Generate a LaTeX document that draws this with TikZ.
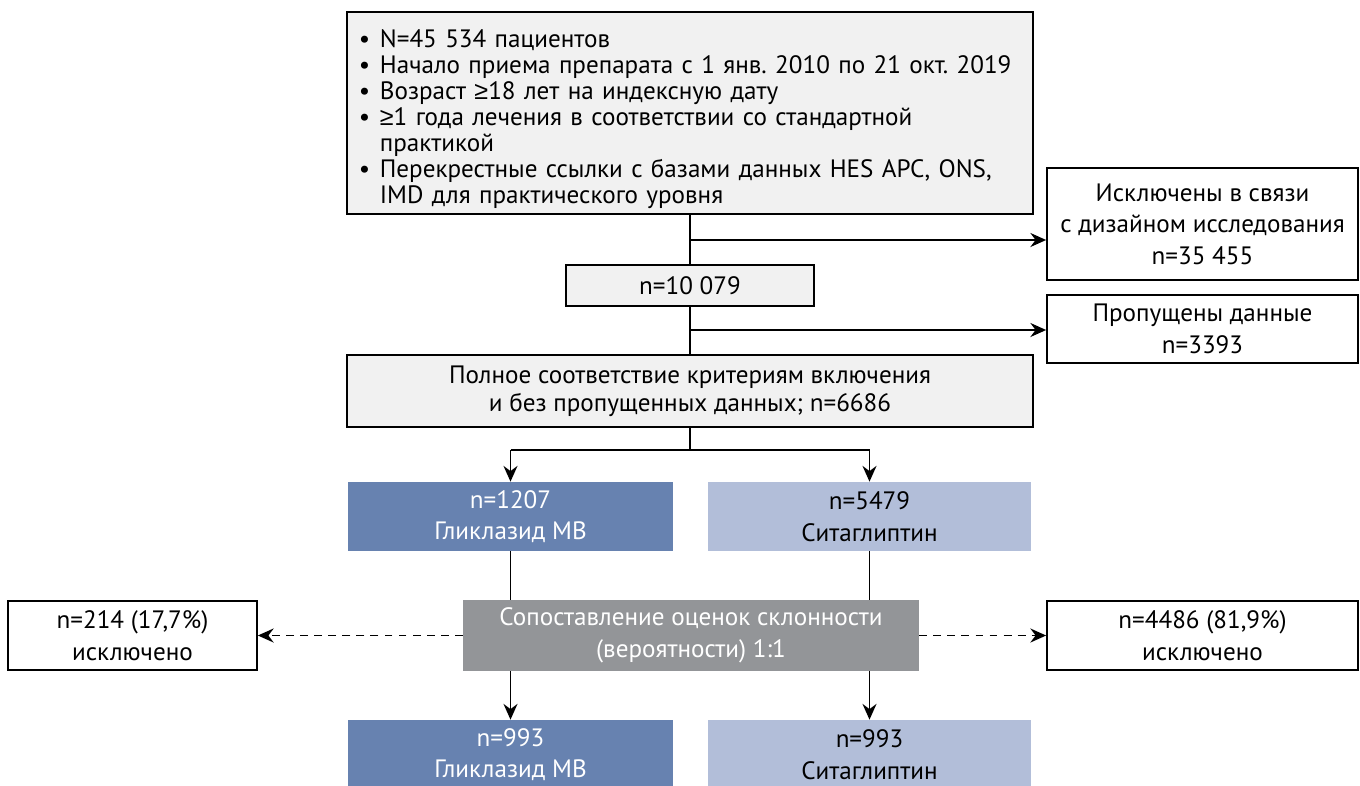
\documentclass[tikz,border=0pt]{standalone}
\usepackage{fontspec}
\setmainfont{PT Sans}
\newfontfamily\symfont{Liberation Sans}
\usepackage{tikz}
\usetikzlibrary{arrows.meta}
\usetikzlibrary{positioning}
\definecolor{boxgray}{HTML}{F1F1F1}
\definecolor{glicblue}{HTML}{6782B0}
\definecolor{sitablue}{HTML}{B2BED9}
\definecolor{psmgray}{HTML}{939598}
\newcommand{\atleast}{{\symfont ≥}}
\newcommand{\bul}{\makebox[13pt][l]{\hspace{1pt}\textbullet}}
\frenchspacing
\tikzset{
   every node/.style={font=\fontsize{14.3}{18}\selectfont, align=center, inner sep=0pt},
   graybox/.style={draw=black, line width=1pt, fill=boxgray},
   whitebox/.style={draw=black, line width=1pt, fill=white},
   glicbox/.style={fill=glicblue, text=white},
   sitabox/.style={fill=sitablue, text=black},
   psmbox/.style={fill=psmgray, text=white},
   conn/.style={draw=black, line width=1pt},
   arr/.style={conn, -{Stealth[length=9pt,width=8pt,inset=3pt]}},
   dasharr/.style={arr, dash pattern=on 4.5pt off 3.5pt},
}

\begin{document}
\begin{tikzpicture}[x=0.02cm, y=-0.02cm]
            \useasboundingbox (0,0) rectangle (1360,785);
            % boxes
            \node[graybox, minimum width=13.72cm, minimum height=4.04cm, text width=13.32cm, align=left,
                  font=\fontsize{14.3}{14.8}\selectfont] (start) at (690,113)
                 {\rule{0pt}{17pt}\bul N=45 534 пациентов\\
                  \bul Начало приема препарата с 1 янв. 2010 по 21 окт. 2019\\
                  \bul Возраст \atleast18 лет на индексную дату\\
                  \bul \atleast1 года лечения в соответствии со стандартной\\
                  \hspace*{13pt}практикой\\
                  \bul Перекрестные ссылки с базами данных HES APC, ONS,\\
                  \hspace*{13pt}IMD для практического уровня};
            \node[whitebox, minimum width=6.22cm, minimum height=2.24cm] (design) at (1202.5,224)
                 {Исключены в связи\\с дизайном исследования\\n=35 455};
            \node[graybox, minimum width=4.96cm, minimum height=0.82cm] (total) at (690,285.5) {n=10 079};
            \node[whitebox, minimum width=6.22cm, minimum height=1.36cm] (missing) at (1202.5,329)
                 {Пропущены данные\\n=3393};
            \node[graybox, minimum width=13.72cm, minimum height=1.44cm,
                  font=\fontsize{14.3}{16}\selectfont] (eligible) at (690,391)
                 {Полное соответствие критериям включения\\и без пропущенных данных; n=6686};
            \node[glicbox, minimum width=6.5cm, minimum height=1.38cm] (glic) at (510.5,516.5)
                 {n=1207\\Гликлазид MB};
            \node[sitabox, minimum width=6.46cm, minimum height=1.38cm] (sita) at (869.5,516.5)
                 {n=5479\\Ситаглиптин};
            \node[psmbox, minimum width=9.12cm, minimum height=1.42cm] (psm) at (691,635.5)
                 {Сопоставление оценок склонности\\(вероятности) 1:1};
            \node[whitebox, minimum width=4.98cm, minimum height=1.38cm] (exglic) at (132.5,635.5)
                 {n=214 (17,7\%)\\исключено};
            \node[whitebox, minimum width=6.22cm, minimum height=1.38cm] (exsita) at (1202.5,635.5)
                 {n=4486 (81,9\%)\\исключено};
            \node[glicbox, minimum width=6.5cm, minimum height=1.38cm] (glicm) at (510.5,754.5)
                 {n=993\\Гликлазид MB};
            \node[sitabox, minimum width=6.46cm, minimum height=1.38cm] (sitam) at (869.5,754.5)
                 {n=993\\Ситаглиптин};
            % connectors
            \coordinate (b1) at (690,240);
            \coordinate (b2) at (690,330);
            \coordinate (split) at (690,450);
            \draw[conn] (start.south) -- (total.north);
            \draw[arr] (b1) -- (b1 -| design.west);
            \draw[conn] (total.south) -- (eligible.north);
            \draw[arr] (b2) -- (b2 -| missing.west);
            \draw[conn] (eligible.south) -- (split);
            \draw[conn] (split -| glic.north) -- (split -| sita.north);
            \draw[arr] (split -| glic.north) -- (glic.north);
            \draw[arr] (split -| sita.north) -- (sita.north);
            \draw[conn] (glic.south) -- (glic.south |- psm.north);
            \draw[conn] (sita.south) -- (sita.south |- psm.north);
            \draw[arr] (glic.south |- psm.south) -- (glicm.north);
            \draw[arr] (sita.south |- psm.south) -- (sitam.north);
            \draw[dasharr] (psm.west) -- (exglic.east);
            \draw[dasharr] (psm.east) -- (exsita.west);
        \end{tikzpicture}
\end{document}
